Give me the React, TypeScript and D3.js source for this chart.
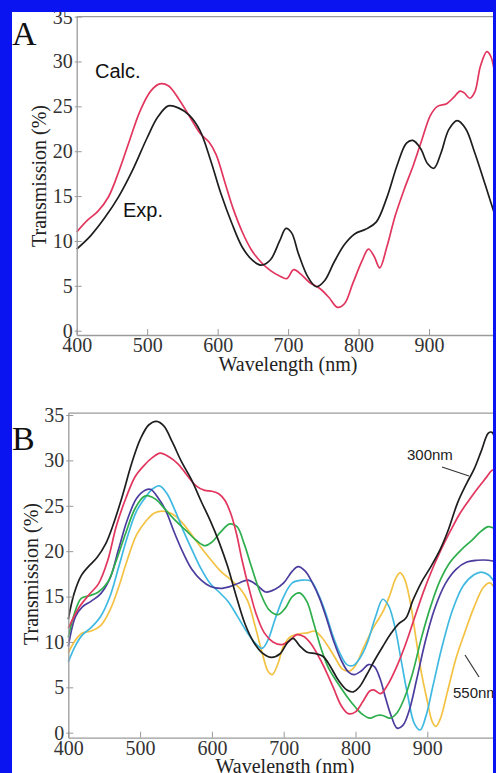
import * as d3 from 'd3';
import {useEffect, useRef} from "react";

type Pt = [number, number]; // [wavelength nm, transmission %]

const wavelengthTicks = [400, 500, 600, 700, 800, 900];
const transmissionTicks = [0, 5, 10, 15, 20, 25, 30, 35];

// Panel A: experiment vs calculation
const expA: Pt[] = [
    [400, 9.1], [420, 10.6], [440, 12.6], [460, 15.0], [480, 18.0], [500, 21.5], [515, 23.8],
    [530, 25.05], [545, 24.8], [560, 24.0], [575, 22.3], [590, 19.0], [605, 15.2], [620, 12.0],
    [635, 9.3], [650, 7.8], [662, 7.3], [675, 7.9], [688, 10.0], [697, 11.4], [705, 10.9],
    [715, 8.5], [728, 6.0], [740, 4.9], [752, 5.6], [765, 7.6], [780, 9.6], [795, 10.8],
    [810, 11.3], [825, 12.1], [840, 14.8], [855, 18.5], [868, 20.9], [877, 21.2], [888, 20.3],
    [898, 18.6], [907, 18.1], [917, 19.8], [928, 22.4], [940, 23.4], [952, 22.5], [965, 19.8],
    [980, 16.2], [995, 12.5],
];
const calcA: Pt[] = [
    [400, 11.0], [415, 12.3], [430, 13.3], [445, 14.9], [460, 17.8], [475, 21.2], [490, 24.5],
    [505, 26.7], [518, 27.5], [530, 27.3], [545, 25.8], [560, 23.9], [575, 22.0], [588, 21.0],
    [598, 19.6], [610, 16.6], [622, 13.6], [635, 11.0], [648, 9.0], [662, 7.6], [675, 6.7],
    [688, 6.1], [698, 5.8], [708, 6.8], [718, 6.3], [730, 5.4], [745, 4.7], [758, 3.7],
    [770, 2.6], [780, 3.0], [792, 5.3], [805, 7.8], [814, 9.1], [822, 8.3], [830, 7.0],
    [840, 9.3], [852, 12.8], [865, 15.8], [878, 18.5], [890, 21.3], [902, 24.0], [912, 25.0],
    [925, 25.3], [935, 26.0], [944, 26.7], [950, 26.5], [958, 25.9], [965, 26.6], [973, 29.5],
    [982, 31.1], [988, 30.5], [995, 27.5],
];

// Panel B: series from 300nm to 550nm
const b300: Pt[] = [
    [400, 12.5], [408, 15.3], [418, 17.3], [428, 18.3], [440, 19.3], [452, 20.8], [462, 22.8],
    [475, 26.0], [488, 29.6], [500, 32.3], [512, 33.9], [523, 34.3], [533, 33.8], [545, 32.0],
    [558, 29.8], [572, 27.8], [585, 25.5], [598, 23.3], [610, 21.0], [622, 18.3], [634, 15.0],
    [646, 12.0], [658, 10.0], [670, 8.8], [683, 8.3], [695, 8.7], [705, 9.9], [713, 10.4],
    [722, 9.6], [732, 8.9], [745, 8.7], [755, 8.4], [765, 7.3], [776, 5.8], [788, 4.7],
    [797, 4.5], [806, 5.1], [815, 6.3], [826, 7.9], [838, 9.5], [850, 11.0], [860, 12.0],
    [870, 12.6], [880, 14.6], [892, 16.6], [905, 18.3], [918, 20.2], [930, 22.5], [942, 25.3],
    [955, 27.5], [965, 29.0], [975, 31.0], [985, 33.0], [990, 33.1], [996, 31.8],
];
const b350: Pt[] = [
    [400, 11.5], [415, 13.8], [430, 15.3], [442, 16.4], [455, 19.0], [467, 22.8], [480, 25.8],
    [493, 28.2], [505, 29.4], [517, 30.3], [528, 30.8], [540, 30.4], [553, 29.6], [565, 28.4],
    [578, 27.2], [590, 26.7], [600, 26.6], [610, 26.3], [618, 25.6], [626, 24.2], [634, 22.0],
    [642, 19.0], [652, 15.8], [662, 13.0], [673, 11.0], [685, 10.0], [697, 9.7], [708, 10.1],
    [718, 10.8], [728, 10.6], [738, 9.8], [750, 8.2], [760, 6.6], [770, 4.8], [780, 3.0],
    [790, 2.1], [800, 2.3], [810, 3.4], [820, 4.6], [826, 4.7], [835, 4.3], [845, 5.3],
    [858, 7.4], [870, 9.8], [882, 12.6], [895, 15.6], [908, 18.2], [920, 20.3], [932, 22.2],
    [945, 24.1], [958, 25.6], [970, 26.9], [982, 28.1], [990, 28.9], [996, 29.0],
];
const b400: Pt[] = [
    [400, 10.5], [408, 13.0], [418, 14.8], [430, 15.1], [442, 15.5], [455, 16.6], [467, 19.0],
    [480, 22.0], [493, 24.7], [505, 26.0], [512, 26.1], [522, 25.7], [535, 24.6], [550, 23.3],
    [565, 22.2], [578, 21.2], [590, 20.6], [600, 21.0], [612, 22.1], [625, 23.0], [635, 22.7],
    [645, 20.8], [655, 18.3], [667, 15.5], [680, 13.5], [692, 13.0], [702, 13.7], [712, 15.0],
    [722, 15.4], [732, 14.5], [742, 12.0], [752, 9.3], [762, 7.2], [775, 5.5], [788, 4.0],
    [800, 2.8], [810, 2.0], [820, 1.6], [830, 1.9], [838, 1.9], [848, 1.6], [858, 2.2],
    [868, 3.8], [880, 6.7], [892, 10.5], [905, 14.0], [918, 16.8], [932, 18.8], [948, 20.2],
    [962, 21.2], [975, 22.2], [985, 22.7], [996, 22.4],
];
const b450: Pt[] = [
    [400, 9.5], [410, 12.8], [420, 13.9], [432, 14.5], [445, 15.3], [458, 17.0], [470, 20.2],
    [482, 23.4], [495, 25.8], [507, 26.7], [515, 26.8], [524, 26.0], [535, 24.6], [548, 22.0],
    [560, 19.8], [572, 18.0], [585, 16.8], [598, 16.1], [612, 15.9], [625, 16.1], [638, 16.5],
    [650, 16.8], [662, 16.3], [675, 15.5], [688, 15.8], [700, 16.5], [712, 17.8], [720, 18.3],
    [730, 17.8], [740, 16.5], [750, 14.8], [760, 12.5], [770, 10.0], [780, 8.0], [790, 6.7],
    [798, 6.4], [808, 6.8], [818, 7.5], [826, 7.3], [834, 6.0], [842, 3.8], [850, 1.8],
    [858, 0.5], [866, 0.8], [875, 2.5], [885, 5.8], [897, 10.0], [910, 13.6], [925, 16.4],
    [940, 18.0], [955, 18.8], [970, 19.0], [985, 19.0], [996, 18.8],
];
const b500: Pt[] = [
    [400, 7.8], [410, 9.6], [420, 10.8], [432, 11.6], [445, 12.8], [458, 15.0], [470, 18.2],
    [482, 21.5], [495, 24.4], [508, 26.0], [518, 26.9], [527, 27.2], [537, 26.4], [548, 24.6],
    [560, 22.3], [572, 20.2], [584, 18.2], [597, 16.5], [610, 15.5], [622, 14.5], [635, 12.9],
    [648, 11.2], [660, 9.9], [670, 9.3], [678, 10.2], [688, 12.5], [700, 15.0], [712, 16.5],
    [725, 16.8], [738, 16.7], [748, 15.3], [758, 13.3], [768, 10.8], [778, 8.8], [788, 7.5],
    [797, 7.4], [806, 8.2], [816, 9.8], [828, 12.8], [838, 14.7], [846, 14.0], [855, 11.6],
    [864, 7.8], [873, 4.0], [882, 1.0], [890, 0.3], [898, 1.8], [908, 5.2], [920, 9.3],
    [935, 13.5], [950, 16.2], [965, 17.4], [975, 17.7], [985, 17.4], [996, 16.3],
];
const b550: Pt[] = [
    [400, 8.8], [410, 10.2], [420, 11.0], [432, 11.2], [445, 11.8], [458, 13.5], [470, 16.0],
    [482, 19.0], [495, 21.8], [508, 23.3], [520, 24.2], [532, 24.4], [545, 24.1], [558, 23.2],
    [570, 22.0], [583, 20.6], [597, 19.2], [612, 17.8], [627, 16.8], [640, 15.8], [650, 14.5],
    [660, 11.8], [670, 8.8], [678, 6.8], [684, 6.4], [692, 7.6], [700, 9.6], [710, 10.6],
    [722, 10.9], [733, 11.0], [743, 11.2], [752, 10.6], [762, 9.5], [772, 8.2], [782, 7.0],
    [792, 6.8], [800, 7.4], [812, 9.5], [825, 11.6], [838, 13.3], [848, 15.2], [856, 17.0],
    [862, 17.6], [868, 17.0], [876, 14.5], [884, 10.5], [892, 6.5], [900, 3.5], [907, 1.2],
    [912, 0.7], [918, 1.5], [928, 4.5], [940, 8.2], [952, 11.0], [965, 13.8], [978, 16.0],
    [987, 16.5], [996, 15.6],
];

const seriesA = [
    {data: calcA, color: "#e2365e"},
    {data: expA, color: "#1e1e1e"},
];
const seriesB = [
    {data: b550, color: "#f4c242"},
    {data: b500, color: "#3fb9e2"},
    {data: b450, color: "#4a3d9e"},
    {data: b400, color: "#2eae4c"},
    {data: b350, color: "#e2365e"},
    {data: b300, color: "#1e1e1e"},
];

const serif = "'Liberation Serif', 'Times New Roman', serif";
const sans = "'Liberation Sans', Arial, sans-serif";

interface PanelCfg {
    x0: number; x1: number; yBottom: number; yTop: number;
    yMin: number; yMax: number;
    series: {data: Pt[]; color: string}[];
    titleX: number; titleY: number; labelX: number; labelY: number;
}

function drawPanel(svg: d3.Selection<SVGSVGElement, unknown, null, undefined>, cfg: PanelCfg) {
    const x = d3.scaleLinear().domain([400, 1000]).range([cfg.x0, cfg.x1]);
    const y = d3.scaleLinear().domain([cfg.yMin, cfg.yMax]).range([cfg.yBottom, cfg.yTop]);
    const g = svg.append("g");

    // frame top line
    g.append("line")
        .attr("x1", cfg.x0).attr("x2", cfg.x1)
        .attr("y1", cfg.yTop).attr("y2", cfg.yTop)
        .attr("stroke", "#9a9a9a").attr("stroke-width", 1.3);

    const line = d3.line<Pt>()
        .x(d => x(d[0]))
        .y(d => y(d[1]))
        .curve(d3.curveCatmullRom.alpha(0.5));

    cfg.series.forEach(s => {
        g.append("path")
            .datum(s.data)
            .attr("fill", "none")
            .attr("stroke", s.color)
            .attr("stroke-width", 1.7)
            .attr("d", line);
    });

    g.append("g")
        .attr("transform", `translate(0,${cfg.yBottom})`)
        .call(d3.axisBottom(x).tickValues(wavelengthTicks).tickSizeInner(-6).tickSizeOuter(0).tickPadding(3))
        .call(a => a.select(".domain").attr("stroke", "#9a9a9a").attr("stroke-width", 1.3))
        .call(a => a.selectAll(".tick line").attr("stroke", "#9a9a9a"))
        .call(a => a.selectAll("text").attr("font-family", serif).attr("font-size", 20).attr("fill", "#333"));

    g.append("g")
        .attr("transform", `translate(${cfg.x0},0)`)
        .call(d3.axisLeft(y).tickValues(transmissionTicks).tickSizeInner(-5).tickSizeOuter(0).tickPadding(4))
        .call(a => a.select(".domain").attr("stroke", "#9a9a9a").attr("stroke-width", 1.3))
        .call(a => a.selectAll(".tick line").attr("stroke", "#9a9a9a").attr("x1", -2))
        .call(a => a.selectAll("text").attr("font-family", serif).attr("font-size", 20).attr("fill", "#333"));

    g.append("text")
        .attr("x", cfg.titleX).attr("y", cfg.titleY)
        .attr("text-anchor", "middle")
        .attr("font-family", serif).attr("font-size", 20).attr("fill", "#222")
        .text("Wavelength (nm)");

    g.append("text")
        .attr("transform", `translate(${cfg.labelX},${cfg.labelY}) rotate(-90)`)
        .attr("text-anchor", "middle")
        .attr("font-family", serif).attr("font-size", 20).attr("fill", "#222")
        .text("Transmission (%)");
}

export default function App() {
    const svgRef = useRef<SVGSVGElement | null>(null);

    useEffect(() => {
        if (!svgRef.current) return;
        const svg = d3.select(svgRef.current);
        svg.selectAll("*").remove();

        svg.append("rect").attr("width", 496).attr("height", 773).attr("fill", "white");

        drawPanel(svg, {
            x0: 76.7, x1: 499.5, yBottom: 335, yTop: 16.6, yMin: -0.48, yMax: 35,
            series: seriesA, titleX: 288, titleY: 371, labelX: 46, labelY: 176,
        });
        drawPanel(svg, {
            x0: 68.3, x1: 499.1, yBottom: 737.7, yTop: 413.2, yMin: -0.55, yMax: 35.2,
            series: seriesB, titleX: 285, titleY: 773, labelX: 38, labelY: 574,
        });

        // panel letters
        svg.append("text").attr("x", 12).attr("y", 45)
            .attr("font-family", serif).attr("font-size", 34).attr("fill", "#111").text("A");
        svg.append("text").attr("x", 12).attr("y", 450)
            .attr("font-family", serif).attr("font-size", 34).attr("fill", "#111").text("B");

        // annotations
        svg.append("text").attr("x", 95).attr("y", 78)
            .attr("font-family", sans).attr("font-size", 20).attr("fill", "#111").text("Calc.");
        svg.append("text").attr("x", 123).attr("y", 217)
            .attr("font-family", sans).attr("font-size", 20).attr("fill", "#111").text("Exp.");
        svg.append("text").attr("x", 407).attr("y", 460)
            .attr("font-family", sans).attr("font-size", 15).attr("fill", "#222").text("300nm");
        svg.append("text").attr("x", 453).attr("y", 698)
            .attr("font-family", sans).attr("font-size", 15).attr("fill", "#222").text("550nm");
        svg.append("line").attr("x1", 442).attr("y1", 467).attr("x2", 469).attr("y2", 476)
            .attr("stroke", "#333").attr("stroke-width", 1.2);
        svg.append("line").attr("x1", 465).attr("y1", 655).attr("x2", 479).attr("y2", 677)
            .attr("stroke", "#333").attr("stroke-width", 1.2);

        // blue page border
        svg.append("rect").attr("x", 0).attr("y", 0).attr("width", 12).attr("height", 773).attr("fill", "#0a14f0");
        svg.append("rect").attr("x", 0).attr("y", 0).attr("width", 496).attr("height", 12).attr("fill", "#0a14f0");
        svg.append("rect").attr("x", 493).attr("y", 0).attr("width", 3).attr("height", 773).attr("fill", "#0a14f0");
    }, []);

    return (
        <svg ref={svgRef} width={496} height={773}
             style={{position: "absolute", left: 0, top: 0, display: "block"}}></svg>
    );
}
